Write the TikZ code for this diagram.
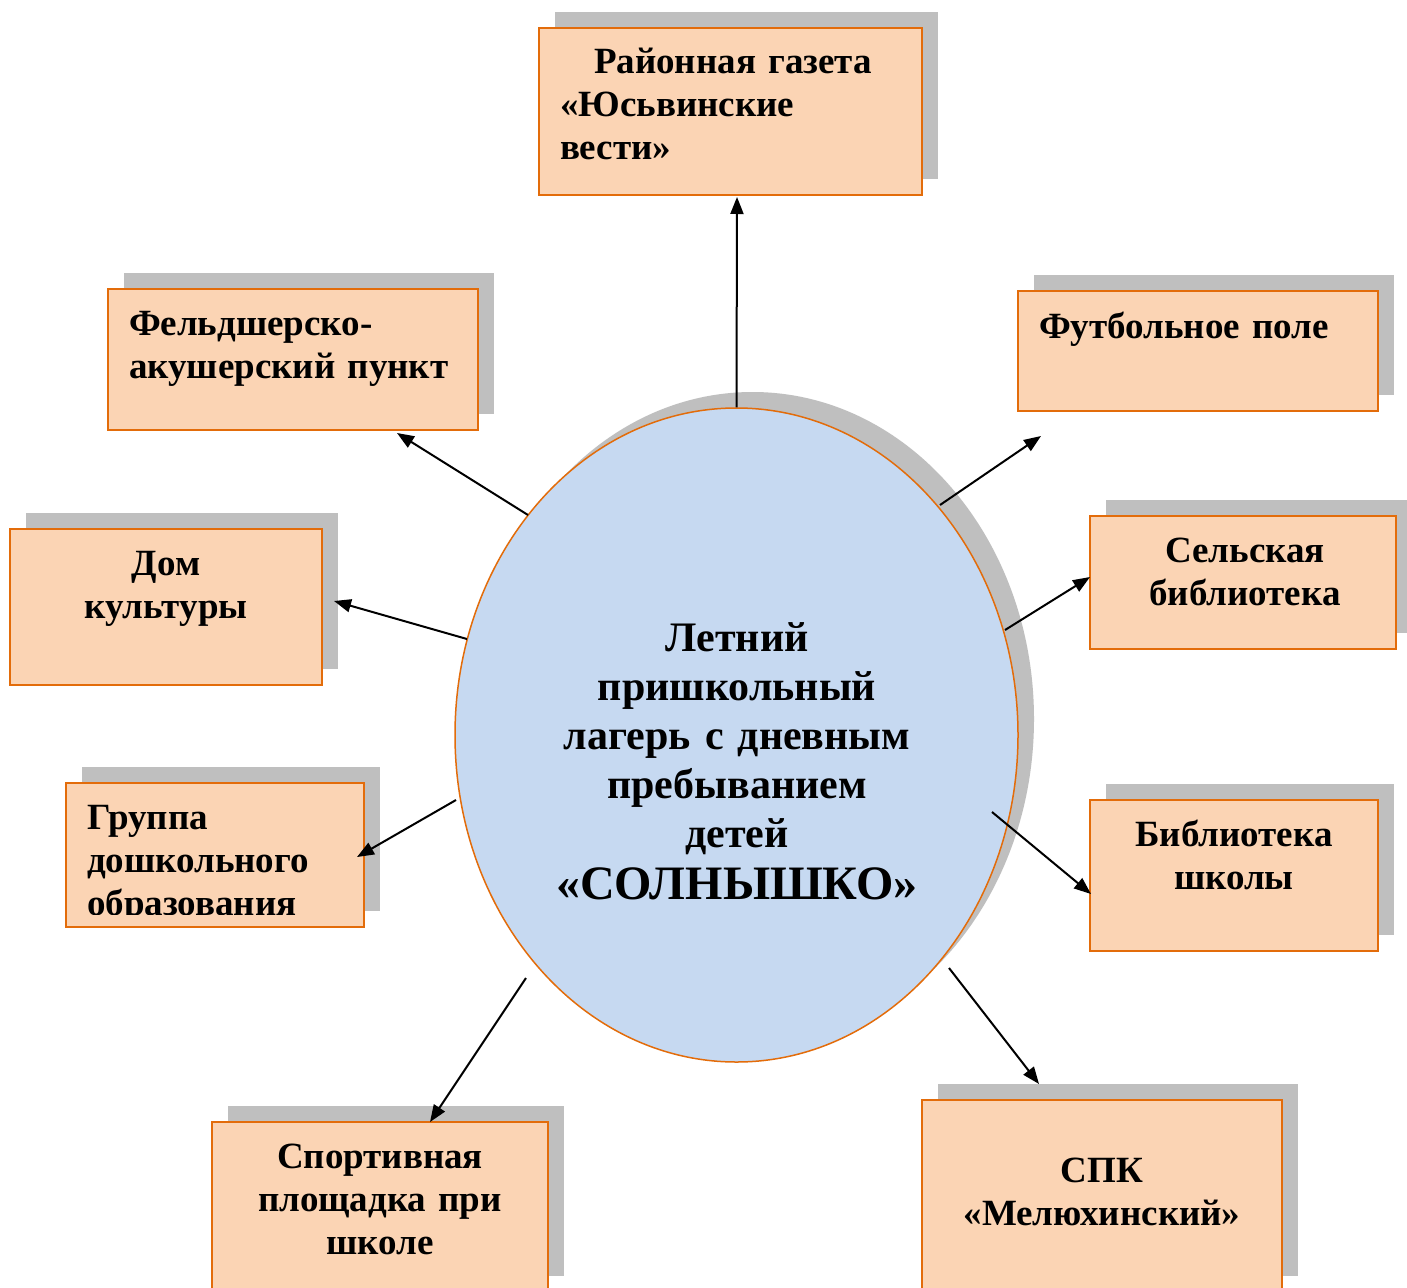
\documentclass[tikz,border=0pt]{standalone}
\usepackage{fontspec}
\setmainfont{Liberation Serif}
\usetikzlibrary{arrows.meta,shapes.geometric,shadows}
\definecolor{boxfill}{HTML}{FBD4B4}
\definecolor{boxline}{HTML}{E36C0A}
\definecolor{shade}{HTML}{BFBFBF}
\definecolor{ellfill}{HTML}{C6D9F1}
\begin{document}
\begin{tikzpicture}[x=1pt,y=-1pt,
  box/.style={draw=boxline, fill=boxfill, line width=2pt, inner sep=0pt, outer sep=0pt, anchor=north west,
    general shadow={fill=shade, shadow xshift=16pt, shadow yshift=16pt}},
  txt/.style={inner sep=0pt, outer sep=0pt, font=\fontsize{37}{43}\selectfont\bfseries},
  ltxt/.style={txt, anchor=base west, text width=380pt, align=left},
  ctxt/.style={txt, anchor=base, text width=360pt, align=center},
  conn/.style={line width=2pt, -{Triangle[length=17pt,width=13pt]}}
]
\useasboundingbox (0,0) rectangle (1407,1287);
\clip (0,0) rectangle (1407,1287);
\fill[white] (0,0) rectangle (1407,1287);

% boxes
\node[box, minimum width=383pt, minimum height=167pt] (gaz) at (539,28) {};
\node[box, minimum width=370pt, minimum height=141pt] (fel) at (108,289) {};
\node[box, minimum width=312pt, minimum height=156pt] (dom) at (10,529) {};
\node[box, minimum width=298pt, minimum height=144pt] (gru) at (66,783) {};
\node[box, minimum width=336pt, minimum height=170pt] (spo) at (212,1122) {};
\node[box, minimum width=360pt, minimum height=120pt] (fut) at (1018,291) {};
\node[box, minimum width=306pt, minimum height=133pt] (sel) at (1090,516) {};
\node[box, minimum width=288pt, minimum height=151pt] (bib) at (1090,800) {};
\node[box, minimum width=360pt, minimum height=192pt] (spk) at (922,1100) {};

% central ellipse
\node[ellipse, draw=boxline, fill=ellfill, line width=1.5pt, inner sep=0pt,
  minimum width=563pt, minimum height=654pt,
  general shadow={fill=shade, shadow xshift=16pt, shadow yshift=16pt}] (ell) at (736.5,735) {};

% texts
\node[ltxt] (gazT) at (560,74) {\hspace*{34pt}Районная газета\\«Юсьвинские\\вести»};
\node[ltxt] (felT) at (129,335) {Фельдшерско-\\акушерский пункт};
\node[ctxt, text width=300pt] (domT) at (166,575) {Дом\\культуры};
\begin{scope}
\clip (66,783) rectangle (364,914);
\node[ltxt, text width=290pt] (gruT) at (87,829) {Группа\\дошкольного\\образования};
\end{scope}
\node[ctxt] (spoT) at (380,1168) {Спортивная\\площадка при\\школе};
\node[ltxt, text width=350pt] (futT) at (1039,338) {Футбольное поле};
\node[ctxt, text width=300pt] (selT) at (1245,562) {Сельская\\библиотека};
\node[ctxt, text width=280pt] (bibT) at (1234,846) {Библиотека\\школы};
\node[ctxt] (spkT) at (1102,1182) {СПК\\«Мелюхинский»};
\node[txt, anchor=base, text width=480pt, align=center, font=\fontsize{42}{49}\selectfont\bfseries] (ellT) at (737,651)
  {Летний\\пришкольный\\лагерь с дневным\\пребыванием\\детей\\[3pt]{\fontsize{48}{49}\selectfont «СОЛНЫШКО»}};

% connector end points
\coordinate (tGaz) at (737,197);
\coordinate (sFel) at (528,515); \coordinate (tFel) at (397,433);
\coordinate (sDom) at (467,639); \coordinate (tDom) at (334,601);
\coordinate (sGru) at (456,800); \coordinate (tGru) at (357,857);
\coordinate (sSpo) at (526,978); \coordinate (tSpo) at (430,1122);
\coordinate (sFut) at (940,505); \coordinate (tFut) at (1041,436);
\coordinate (sSel) at (1005,630); \coordinate (tSel) at (1090,577);
\coordinate (sBib) at (992,812); \coordinate (tBib) at (1091,894);
\coordinate (sSpk) at (949,968); \coordinate (tSpk) at (1039,1084);

% connectors
\draw[conn] (ell.north) -- (tGaz);
\draw[conn] (sFel) -- (tFel);
\draw[conn] (sDom) -- (tDom);
\draw[conn] (sGru) -- (tGru);
\draw[conn] (sSpo) -- (tSpo);
\draw[conn] (sFut) -- (tFut);
\draw[conn] (sSel) -- (tSel);
\draw[conn] (sBib) -- (tBib);
\draw[conn] (sSpk) -- (tSpk);
\end{tikzpicture}
\end{document}
